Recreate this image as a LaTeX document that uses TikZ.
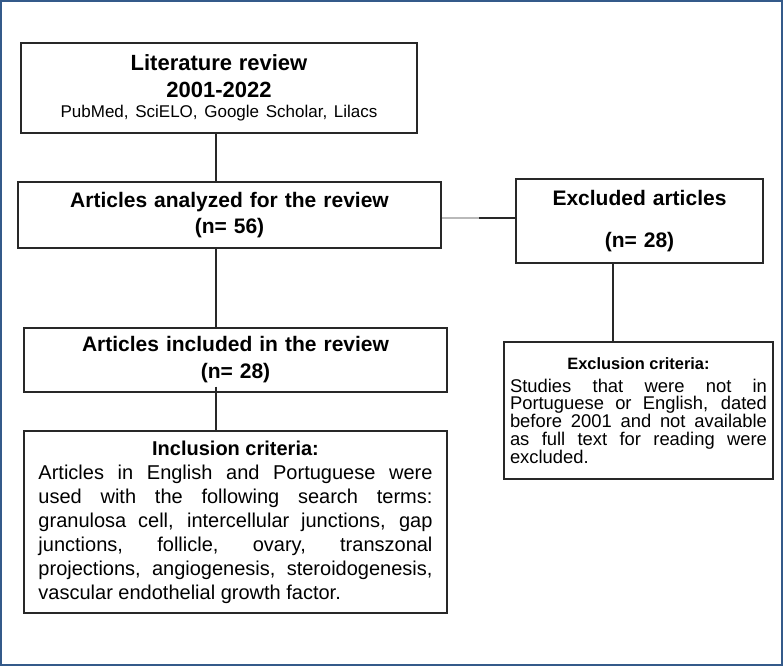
\documentclass[tikz,border=0pt]{standalone}
\usepackage{fontspec}
\setmainfont{Liberation Sans}
\usetikzlibrary{calc}
\definecolor{framecol}{RGB}{52,90,138}
\definecolor{linecol}{RGB}{40,40,40}

\begin{document}
\begin{tikzpicture}[x=0.5pt,y=-0.5pt,
    box/.style={draw=linecol,line width=0.75pt,inner sep=0pt,align=center},
    crit/.style={box,align=justify},
    link/.style={draw=linecol,line width=0.75pt}]
    \useasboundingbox (0,0) rectangle (784,667);
    \draw[framecol,line width=1pt] (1,1) rectangle (782,665);

    \node[box,minimum width=198pt,minimum height=45pt,text width=190pt] (litrev) at (219,88)
        {{\fontsize{11}{13.5}\selectfont\bfseries Literature review\\2001-2022\par}
         {\fontsize{8.5}{10}\selectfont PubMed, SciELO, Google Scholar, Lilacs\par}};

    \node[box,minimum width=211.5pt,minimum height=33pt,text width=200pt,
        font=\fontsize{10.5}{13}\selectfont\bfseries] (analyzed) at (229.5,215)
        {Articles analyzed for the review\\(n= 56)};

    \node[box,minimum width=123.5pt,minimum height=42pt,text width=118pt,
        font=\fontsize{10.5}{13}\selectfont\bfseries] (excluded) at (639.5,221)
        {Excluded articles\\[8pt](n= 28)};

    \node[box,minimum width=211.5pt,minimum height=32pt,text width=200pt,
        font=\fontsize{10.5}{13.5}\selectfont\bfseries] (included) at (235.5,360)
        {Articles included in the review\\(n= 28)};

    \node[crit,minimum width=211.5pt,minimum height=91pt,text width=197pt,
        font=\fontsize{10}{12}\selectfont] (inccrit) at (235.5,522)
        {{\centering\fontsize{10}{11.5}\selectfont\bfseries Inclusion criteria:\par}
         \sloppy Articles in English and Portuguese were\linebreak
         used with the following search terms:\linebreak
         granulosa cell, intercellular junctions, gap\linebreak
         junctions, follicle, ovary, transzonal\linebreak
         projections, angiogenesis, steroidogenesis,\linebreak
         vascular endothelial growth factor.};

    \node[crit,minimum width=134.5pt,minimum height=68.5pt,text width=128.5pt,
        font=\fontsize{9.2}{8.9}\selectfont] (exccrit) at (638.5,410.5)
        {{\centering\fontsize{8.2}{9}\selectfont\bfseries Exclusion criteria:\par}
         \vspace{2.5pt}
         \sloppy Studies that were not in\linebreak
         Portuguese or English, dated\linebreak
         before 2001 and not available\linebreak
         as full text for reading were\linebreak
         excluded.};

    \coordinate (spine) at (216,0);
    \coordinate (exspine) at (613,0);
    \coordinate (mid) at (479,218);
    \draw[link] (spine |- litrev.south) -- (spine |- analyzed.north);
    \draw[link] (spine |- analyzed.south) -- (spine |- included.north);
    \draw[link] ([yshift=3pt]spine |- included.south) -- (spine |- inccrit.north);
    \draw[gray!55,line width=1.2pt] (analyzed.east |- mid) -- (mid);
    \draw[link] (mid) -- (excluded.west |- mid);
    \draw[link] (exspine |- excluded.south) -- (exspine |- exccrit.north);
\end{tikzpicture}
\end{document}
